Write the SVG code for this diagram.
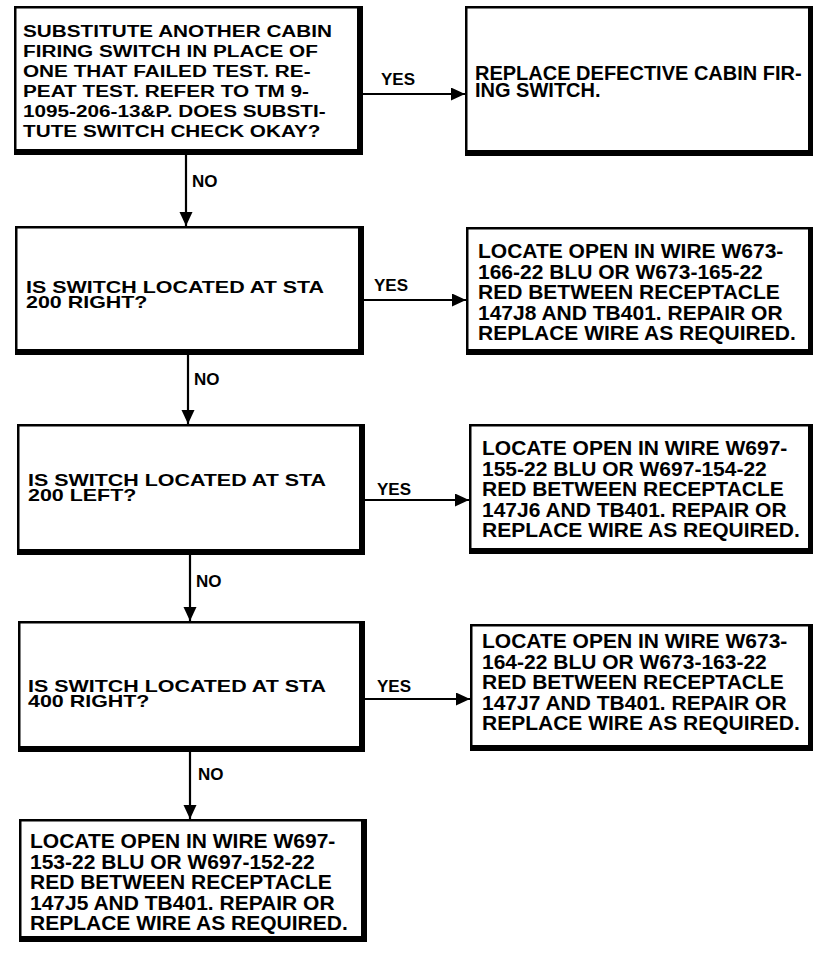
<svg xmlns="http://www.w3.org/2000/svg" width="813" height="953" viewBox="0 0 813 953">
<style>
.bx{fill:#fff;stroke:#000;stroke-width:2.5}
.sh{fill:none;stroke:#000;stroke-width:6}
.q1{font-family:"Liberation Sans",Arial,sans-serif;font-size:17px;font-weight:bold;fill:#000}
.q{font-family:"Liberation Sans",Arial,sans-serif;font-size:16px;font-weight:bold;fill:#000}
.r{font-family:"Liberation Sans",Arial,sans-serif;font-size:21px;font-weight:bold;fill:#000}
.r1{font-family:"Liberation Sans",Arial,sans-serif;font-size:20px;font-weight:bold;fill:#000}
.lb{font-family:"Liberation Sans",Arial,sans-serif;font-size:17px;font-weight:bold;fill:#000}
.cn{fill:none;stroke:#000;stroke-width:2.2}
</style>
<defs>
<marker id="ah" markerUnits="userSpaceOnUse" markerWidth="15" markerHeight="14" refX="14" refY="6.5" orient="auto">
<path d="M0,0 L14,6.5 L0,13 z" fill="#000"/>
</marker>
</defs>
<rect width="813" height="953" fill="#fff"/>
<g id="connectors">
<line class="cn" x1="363" y1="94" x2="465" y2="94" marker-end="url(#ah)"/>
<line class="cn" x1="186" y1="155" x2="186" y2="226" marker-end="url(#ah)"/>
<line class="cn" x1="364" y1="300" x2="466" y2="300" marker-end="url(#ah)"/>
<line class="cn" x1="188" y1="355" x2="188" y2="424" marker-end="url(#ah)"/>
<line class="cn" x1="365" y1="500" x2="469" y2="500" marker-end="url(#ah)"/>
<line class="cn" x1="190" y1="555" x2="190" y2="621" marker-end="url(#ah)"/>
<line class="cn" x1="365" y1="699" x2="470" y2="699" marker-end="url(#ah)"/>
<line class="cn" x1="190" y1="752" x2="190" y2="819" marker-end="url(#ah)"/>
<text class="lb" x="381" y="85">YES</text>
<text class="lb" x="192" y="187">NO</text>
<text class="lb" x="374" y="291">YES</text>
<text class="lb" x="194" y="385">NO</text>
<text class="lb" x="377" y="495">YES</text>
<text class="lb" x="196" y="587">NO</text>
<text class="lb" x="377" y="692">YES</text>
<text class="lb" x="198" y="780">NO</text>
</g>
<g id="q1">
<rect class="bx" x="15.25" y="7.25" width="346.5" height="146.5"/>
<path class="sh" d="M14,152 H363 M360,6 V155"/>
<text class="q1" transform="translate(23,37) scale(1.22,1)"><tspan x="0" y="0">SUBSTITUTE ANOTHER CABIN</tspan><tspan x="0" dy="20">FIRING SWITCH IN PLACE OF</tspan><tspan x="0" dy="20">ONE THAT FAILED TEST. RE-</tspan><tspan x="0" dy="20">PEAT TEST. REFER TO TM 9-</tspan><tspan x="0" dy="20">1095-206-13&amp;P. DOES SUBSTI-</tspan><tspan x="0" dy="20">TUTE SWITCH CHECK OKAY?</tspan></text>
</g>
<g id="r1">
<rect class="bx" x="466.25" y="7.25" width="345.5" height="147.5"/>
<path class="sh" d="M465,153 H813 M811,6 V156"/>
<text class="r1" x="475" y="80">REPLACE DEFECTIVE CABIN FIR-<tspan x="475" dy="17">ING SWITCH.</tspan></text>
</g>
<g id="q2">
<rect class="bx" x="16.25" y="227.25" width="346.5" height="126.5"/>
<path class="sh" d="M15,352 H364 M361,226 V355"/>
<text class="q" transform="translate(26,293) scale(1.34,1)"><tspan x="0" y="0">IS SWITCH LOCATED AT STA</tspan><tspan x="0" dy="15.5">200 RIGHT?</tspan></text>
</g>
<g id="r2">
<rect class="bx" x="467.25" y="228.25" width="344.5" height="125.5"/>
<path class="sh" d="M466,352 H813 M811,227 V355"/>
<text class="r" transform="translate(478,258)"><tspan x="0" y="0">LOCATE OPEN IN WIRE W673-</tspan><tspan x="0" dy="20.5">166-22 BLU OR W673-165-22</tspan><tspan x="0" dy="20.5">RED BETWEEN RECEPTACLE</tspan><tspan x="0" dy="20.5">147J8 AND TB401. REPAIR OR</tspan><tspan x="0" dy="20.5">REPLACE WIRE AS REQUIRED.</tspan></text>
</g>
<g id="q3">
<rect class="bx" x="18.25" y="425.25" width="345.5" height="128.5"/>
<path class="sh" d="M17,552 H365 M362,424 V555"/>
<text class="q" transform="translate(28,486) scale(1.34,1)"><tspan x="0" y="0">IS SWITCH LOCATED AT STA</tspan><tspan x="0" dy="15.5">200 LEFT?</tspan></text>
</g>
<g id="r3">
<rect class="bx" x="470.25" y="425.25" width="341.5" height="127.5"/>
<path class="sh" d="M469,551 H813 M811,424 V554"/>
<text class="r" transform="translate(482,455)"><tspan x="0" y="0">LOCATE OPEN IN WIRE W697-</tspan><tspan x="0" dy="20.5">155-22 BLU OR W697-154-22</tspan><tspan x="0" dy="20.5">RED BETWEEN RECEPTACLE</tspan><tspan x="0" dy="20.5">147J6 AND TB401. REPAIR OR</tspan><tspan x="0" dy="20.5">REPLACE WIRE AS REQUIRED.</tspan></text>
</g>
<g id="q4">
<rect class="bx" x="19.25" y="622.25" width="344.5" height="128.5"/>
<path class="sh" d="M18,749 H365 M362,621 V752"/>
<text class="q" transform="translate(28,692) scale(1.34,1)"><tspan x="0" y="0">IS SWITCH LOCATED AT STA</tspan><tspan x="0" dy="15.5">400 RIGHT?</tspan></text>
</g>
<g id="r4">
<rect class="bx" x="471.25" y="625.25" width="340.5" height="124.5"/>
<path class="sh" d="M470,748 H813 M811,624 V751"/>
<text class="r" transform="translate(482,648)"><tspan x="0" y="0">LOCATE OPEN IN WIRE W673-</tspan><tspan x="0" dy="20.5">164-22 BLU OR W673-163-22</tspan><tspan x="0" dy="20.5">RED BETWEEN RECEPTACLE</tspan><tspan x="0" dy="20.5">147J7 AND TB401. REPAIR OR</tspan><tspan x="0" dy="20.5">REPLACE WIRE AS REQUIRED.</tspan></text>
</g>
<g id="r5">
<rect class="bx" x="20.25" y="820.25" width="345.5" height="120.5"/>
<path class="sh" d="M19,939 H367 M364,819 V942"/>
<text class="r" transform="translate(30,848)"><tspan x="0" y="0">LOCATE OPEN IN WIRE W697-</tspan><tspan x="0" dy="20.5">153-22 BLU OR W697-152-22</tspan><tspan x="0" dy="20.5">RED BETWEEN RECEPTACLE</tspan><tspan x="0" dy="20.5">147J5 AND TB401. REPAIR OR</tspan><tspan x="0" dy="20.5">REPLACE WIRE AS REQUIRED.</tspan></text>
</g>
</svg>
